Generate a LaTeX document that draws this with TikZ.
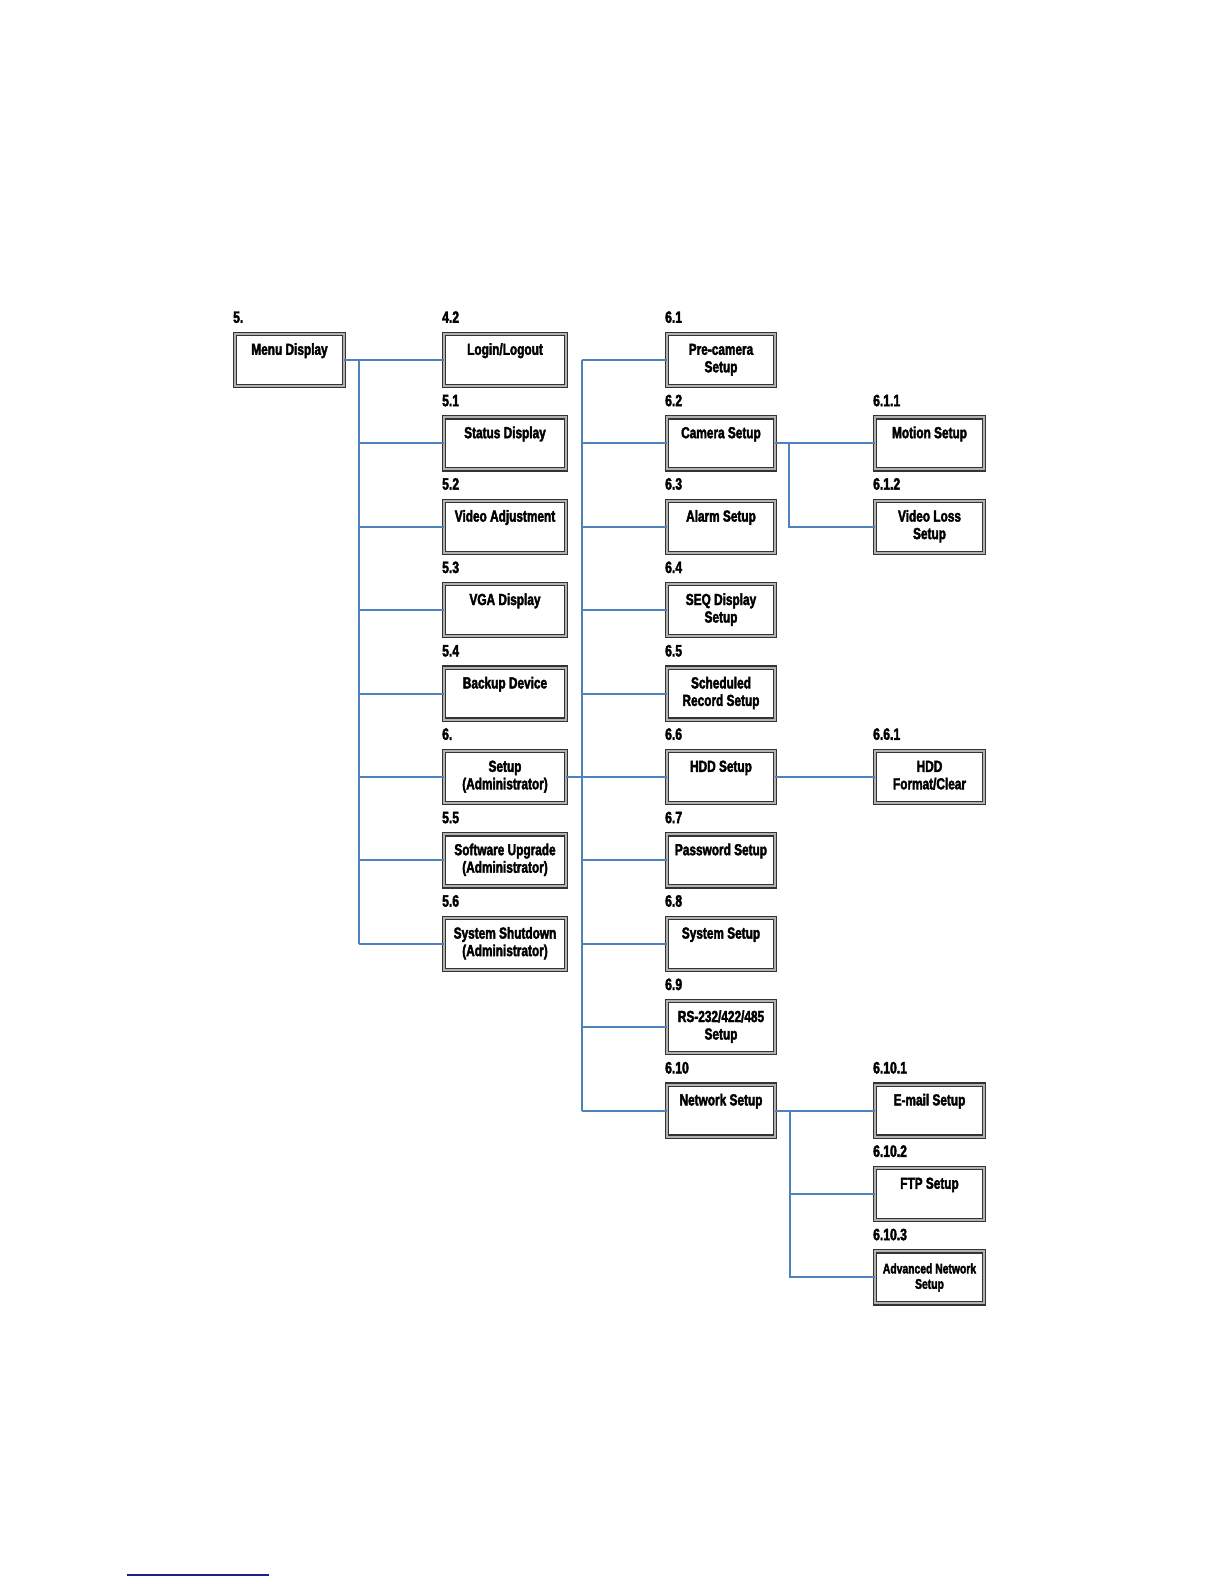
\documentclass[tikz,border=0pt]{standalone}
\usepackage{fontspec}
\newfontfamily\impactish[FakeStretch=0.74,FakeBold=2.4]{Liberation Sans}
\definecolor{linkblue}{RGB}{79,129,189}
\definecolor{rulenavy}{RGB}{30,30,140}
\newcommand\dvrtext[1]{\begin{tabular}[t]{@{}c@{}}#1\end{tabular}}
\newcommand\dvrbox[6]{%
  \node[bx, minimum width=#4] (#1) at (#2,{360+83.4*#3}) {};
  \node[lbl, anchor=base west] (#1-l) at ([shift={(-1.1pt,5.6pt)}]#1.north west) {#5};
  \node[txt, anchor=base] (#1-t) at ([yshift=-10.4pt]#1.north) {\dvrtext{#6}};
}
\begin{document}
\begin{tikzpicture}[x=0.5pt,y=-0.5pt,
  bx/.style={draw=black!80, line width=0.6pt, double=black!30, double distance=1pt,
    fill=white, rectangle, minimum height=26pt, inner sep=0pt, outer sep=0pt},
  lbl/.style={font=\impactish\bfseries\fontsize{8.2}{9}\selectfont, inner sep=0pt},
  txt/.style={font=\impactish\bfseries\fontsize{8}{8.75}\selectfont, inner sep=0pt},
  smalltxt/.style={font=\impactish\bfseries\fontsize{7}{7.7}\selectfont, inner sep=0pt},
  link/.style={draw=linkblue, line width=1pt}]
\useasboundingbox (0,0) rectangle (1224,1584);
% column 1
\dvrbox{menu}{289.5}{0}{54.5pt}{5.}{Menu Display}
% column 2
\dvrbox{login}{505}{0}{61pt}{4.2}{Login/Logout}
\dvrbox{status}{505}{1}{61pt}{5.1}{Status Display}
\dvrbox{video}{505}{2}{61pt}{5.2}{Video Adjustment}
\dvrbox{vga}{505}{3}{61pt}{5.3}{VGA Display}
\dvrbox{backup}{505}{4}{61pt}{5.4}{Backup Device}
\dvrbox{setup}{505}{5}{61pt}{6.}{Setup\\(Administrator)}
\dvrbox{upgrade}{505}{6}{61pt}{5.5}{Software Upgrade\\(Administrator)}
\dvrbox{shut}{505}{7}{61pt}{5.6}{System Shutdown\\(Administrator)}
% column 3
\dvrbox{precam}{721}{0}{54pt}{6.1}{Pre-camera\\Setup}
\dvrbox{camera}{721}{1}{54pt}{6.2}{Camera Setup}
\dvrbox{alarm}{721}{2}{54pt}{6.3}{Alarm Setup}
\dvrbox{seq}{721}{3}{54pt}{6.4}{SEQ Display\\Setup}
\dvrbox{sched}{721}{4}{54pt}{6.5}{Scheduled\\Record Setup}
\dvrbox{hdd}{721}{5}{54pt}{6.6}{HDD Setup}
\dvrbox{pass}{721}{6}{54pt}{6.7}{Password Setup}
\dvrbox{system}{721}{7}{54pt}{6.8}{System Setup}
\dvrbox{rs}{721}{8}{54pt}{6.9}{RS-232/422/485\\Setup}
\dvrbox{net}{721}{9}{54pt}{6.10}{Network Setup}
% column 4
\dvrbox{motion}{929.5}{1}{54.5pt}{6.1.1}{Motion Setup}
\dvrbox{vloss}{929.5}{2}{54.5pt}{6.1.2}{Video Loss\\Setup}
\dvrbox{hddf}{929.5}{5}{54.5pt}{6.6.1}{HDD\\Format/Clear}
\dvrbox{email}{929.5}{9}{54.5pt}{6.10.1}{E-mail Setup}
\dvrbox{ftp}{929.5}{10}{54.5pt}{6.10.2}{FTP Setup}
\node[bx, minimum width=54.5pt] (adv) at (929.5,{360+83.4*11}) {};
\node[lbl, anchor=base west] (adv-l) at ([shift={(-1.1pt,5.6pt)}]adv.north west) {6.10.3};
\node[smalltxt, anchor=base] (adv-t) at ([yshift=-11pt]adv.north) {\dvrtext{Advanced Network\\Setup}};
% trunk coordinates
\coordinate (t1) at (359,360);
\coordinate (t2) at (582,360);
\coordinate (t3) at (789,360);
\coordinate (t4) at (790,360);
% connectors from Menu Display
\draw[link] (menu.east) -- (menu.east -| t1);
\draw[link] (t1 |- login.west) -- (t1 |- shut.west);
\foreach \b in {login,status,video,vga,backup,setup,upgrade,shut}
  \draw[link] (t1 |- \b.west) -- (\b.west);
% connectors from Setup
\draw[link] (setup.east) -- (setup.east -| t2);
\draw[link] (t2 |- precam.west) -- (t2 |- net.west);
\foreach \b in {precam,camera,alarm,seq,sched,hdd,pass,system,rs,net}
  \draw[link] (t2 |- \b.west) -- (\b.west);
% camera setup
\draw[link] (camera.east) -- (motion.west);
\draw[link] (t3 |- camera.east) -- (t3 |- vloss.west) -- (vloss.west);
% hdd
\draw[link] (hdd.east) -- (hddf.west);
% network
\draw[link] (net.east) -- (email.west);
\draw[link] (t4 |- net.east) -- (t4 |- adv.west) -- (adv.west);
\draw[link] (t4 |- ftp.west) -- (ftp.west);
% footnote rule
\coordinate (r1) at (127,1575);
\coordinate (r2) at (269,1575);
\draw[rulenavy, line width=0.6pt] (r1) -- (r2);
\end{tikzpicture}
\end{document}
